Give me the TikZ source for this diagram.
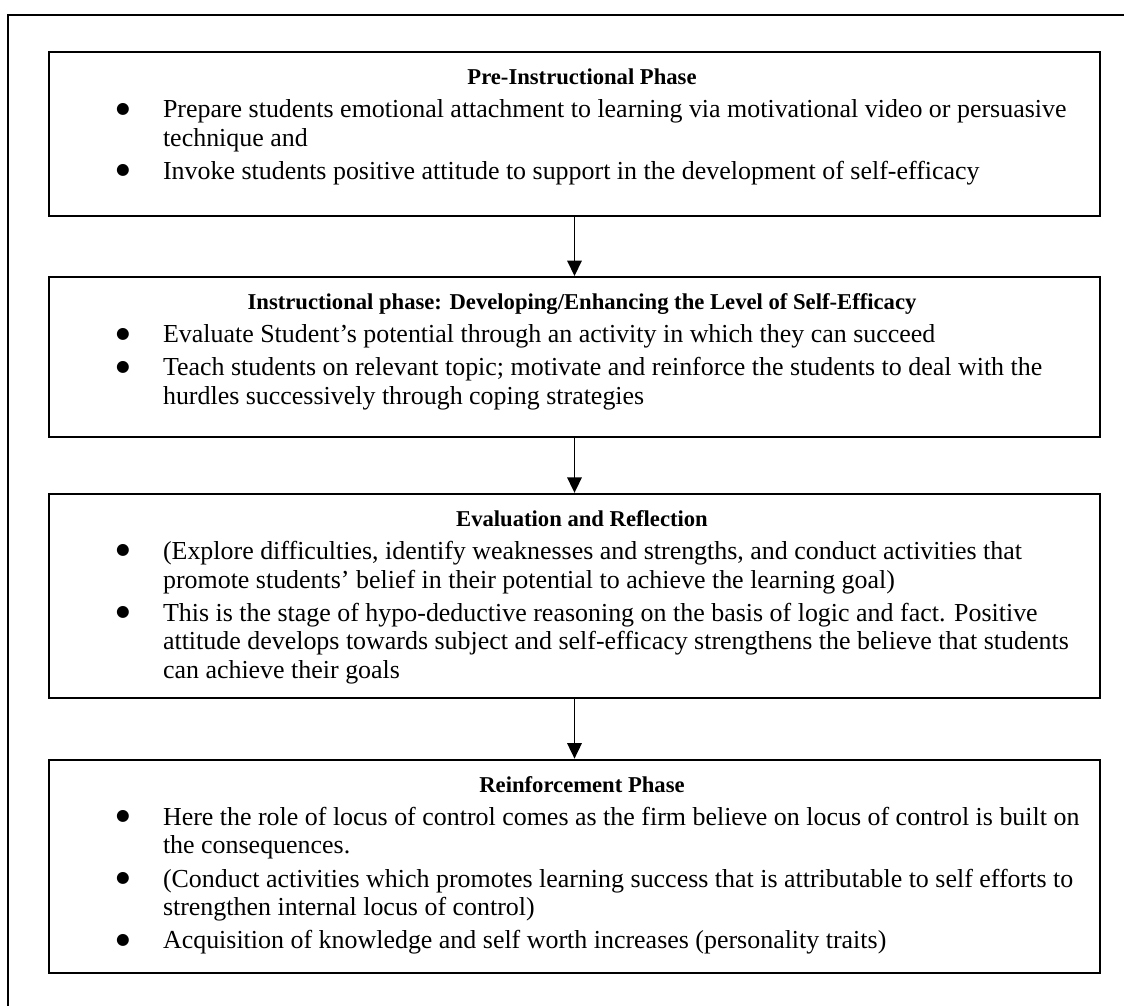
\documentclass[tikz,border=0pt]{standalone}
\usepackage{fontspec}
\setmainfont{Liberation Serif}
\newfontfamily\bulletfont{DejaVu Sans}
\usepackage{tikz}
\usetikzlibrary{arrows.meta,positioning}

% box contents: fixed height, text from the top
\newcommand{\phasebody}[2]{\parbox[c][#1][t]{502.7pt}{\fontsize{12.6pt}{13.9pt}\selectfont
  \setlength{\parskip}{2.2pt}\rightskip=0pt plus 1fil\relax #2}}
\newcommand{\phasetitle}[1]{\hbox to \linewidth{\hss\hspace*{7.3pt}\rule{0pt}{15.8pt}%
  {\fontsize{11pt}{13pt}\selectfont\textbf{#1}}\hss}}
\newcommand{\phaseitem}[1]{\par\hangindent=51.5pt\hangafter=1\noindent
  \makebox[51.5pt][l]{\hspace{32pt}\makebox[0pt]{\raisebox{2.2pt}{\bulletfont\fontsize{7.6pt}{8pt}\selectfont ●}}}#1\par}

\begin{document}
\begin{tikzpicture}[x=0.4857pt, y=-0.4857pt,
  phasebox/.style={draw, line width=0.9pt, inner xsep=3.9pt, inner ysep=0pt, anchor=north},
  flow/.style={line width=0.9pt, -{Triangle[width=7pt,length=7.5pt]}}]
  \useasboundingbox (0,0) rectangle (1124,1005);
  \draw[line width=0.9pt] (8,1006) -- (8,15) -- (1125,15);

  \node[phasebox] (pre) at (574.5,51) {\phasebody{79.7pt}{%
    \phasetitle{Pre-Instructional Phase}
    \phaseitem{Prepare students emotional attachment to learning via motivational video or persuasive\\technique and}
    \phaseitem{Invoke students positive attitude to support in the development of self-efficacy}}};

  \node[phasebox, below=28.7pt of pre] (instr) {\phasebody{77.7pt}{%
    \phasetitle{Instructional phase: Developing/Enhancing the Level of Self-Efficacy}
    \phaseitem{Evaluate Student's potential through an activity in which they can succeed}
    \phaseitem{Teach students on relevant topic; motivate and reinforce the students to deal with the\\hurdles successively through coping strategies}}};

  \node[phasebox, below=26.7pt of instr] (eval) {\phasebody{99.1pt}{%
    \phasetitle{Evaluation and Reflection}
    \phaseitem{(Explore difficulties, identify weaknesses and strengths, and conduct activities that\\promote students' belief in their potential to achieve the learning goal)}
    \phaseitem{This is the stage of hypo-deductive reasoning on the basis of logic and fact. Positive\\attitude develops towards subject and self-efficacy strengthens the believe that students\\can achieve their goals}}};

  \node[phasebox, below=29.1pt of eval] (reinf) {\phasebody{103.5pt}{%
    \phasetitle{Reinforcement Phase}
    \phaseitem{Here the role of locus of control comes as the firm believe on locus of control is built on\\the consequences.}
    \phaseitem{(Conduct activities which promotes learning success that is attributable to self efforts to\\strengthen internal locus of control)}
    \phaseitem{Acquisition of knowledge and self worth increases (personality traits)}}};

  \draw[flow] (pre) -- (instr);
  \draw[flow] (instr) -- (eval);
  \draw[flow] (eval) -- (reinf);
\end{tikzpicture}
\end{document}
